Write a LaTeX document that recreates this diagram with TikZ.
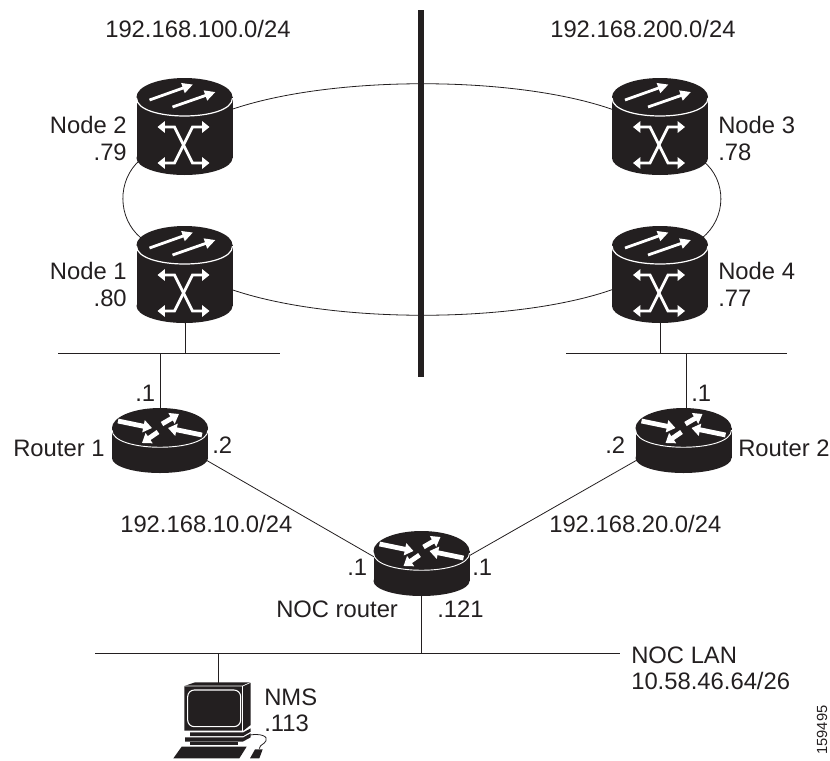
\documentclass[tikz,border=0pt]{standalone}
\usepackage{fontspec}
\setmainfont{Liberation Sans}
\usetikzlibrary{arrows.meta}
\definecolor{dk}{HTML}{231F20}
\tikzset{
  wire/.style={draw=dk,line width=0.6pt},
  lbl/.style={inner sep=0pt,text=dk,font=\fontsize{17.85}{20}\selectfont},
  devbox/.style={inner sep=0pt,minimum width=72pt,minimum height=73pt},
  rtrbox/.style={inner sep=0pt,minimum width=72pt,minimum height=49pt},
  whitearrow/.style={draw=white,line width=2.1pt,-{Triangle[length=8pt,width=7.5pt]}},
  xarrow/.style={draw=white,line width=2.1pt,{Triangle[length=5.5pt,width=8.5pt]}-{Triangle[length=5.5pt,width=8.5pt]},line join=miter},
  rarrow/.style={draw=white,line width=3.6pt,-{Triangle[length=6.5pt,width=9pt]}},
}
\newcommand\admnode[3]{%
  \begin{scope}[shift={(#2,#3)}]
    \node[devbox] (#1) at (0,39) {};
    \fill[dk] (0,0) ellipse [x radius=48,y radius=19];
    \fill[dk] (-48,0) rectangle (48,61);
    \fill[dk] (0,61) ellipse [x radius=48,y radius=17];
    \draw[white,line width=0.9pt] (-48,1) .. controls (-48,25) and (48,25) .. (48,1);
    \draw[whitearrow] (-35,3) -- (8.5,-12.5);
    \draw[whitearrow] (-12,10) -- (31,-5);
    \draw[xarrow] (-27,30) -- (-10,30) -- (8,66) -- (25,66);
    \draw[xarrow] (-27,66) -- (-10,66) -- (8,30) -- (25,30);
  \end{scope}}
\newcommand\rtrnode[3]{%
  \begin{scope}[shift={(#2,#3)}]
    \node[rtrbox] (#1) at (0,12) {};
    \fill[dk] (0,0) ellipse [x radius=48,y radius=20];
    \fill[dk] (-48,0) rectangle (48,30);
    \fill[dk] (0,30) ellipse [x radius=48,y radius=15];
    \draw[white,line width=0.7pt] (-48,2) .. controls (-48,25) and (48,25) .. (48,2);
    \draw[rarrow] (-42,-7) -- (-8,0);
    \draw[rarrow] (2,-4) -- (19,-14);
    \draw[rarrow] (42,7) -- (8,0);
    \draw[rarrow] (-2,4) -- (-18,15);
  \end{scope}}
\begin{document}
\begin{tikzpicture}[x=0.75pt,y=-0.75pt]
\useasboundingbox (0,0) rectangle (830,760);
% named positions
\coordinate (n2r) at (230,110);
\coordinate (n3l) at (614,110);
\coordinate (n1r) at (230,289);
\coordinate (n4l) at (614,289);
\coordinate (n2b) at (140,160);
\coordinate (n1t) at (141,238);
\coordinate (n3b) at (703,161);
\coordinate (n4t) at (702,238);
\coordinate (lan1a) at (58,353);
\coordinate (lan1b) at (280,353);
\coordinate (lan2a) at (566,353);
\coordinate (lan2b) at (787,353);
\coordinate (t1) at (160,353);
\coordinate (t2) at (686,353);
\coordinate (lan3a) at (95,653);
\coordinate (lan3b) at (620,653);
\coordinate (t3) at (218,653);
\coordinate (bar1) at (421,10);
\coordinate (bar2) at (421,377);
\coordinate (r1e) at (206,460);
\coordinate (r2w) at (637,460);
\coordinate (r3w) at (376,558);
\coordinate (r3e) at (467,557);
% connectors
\draw[wire] (n2r) .. controls (330,75) and (516,75) .. (n3l);
\draw[wire] (n1r) .. controls (330,324) and (516,324) .. (n4l);
\draw[wire] (n2b) .. controls (117,180) and (117,218) .. (n1t);
\draw[wire] (n3b) .. controls (727,180) and (727,218) .. (n4t);
\draw[wire] (lan1a) -- (lan1b);
\draw[wire] (lan2a) -- (lan2b);
\draw[wire] (lan3a) -- (lan3b);
\draw[dk,line width=4.2pt] (bar1) -- (bar2);
% devices
\coordinate (n1ctr) at (185,300);
\coordinate (n4ctr) at (660,300);
\draw[wire] (n1ctr) -- (n1ctr |- lan1a);
\draw[wire] (n4ctr) -- (n4ctr |- lan2a);
\admnode{n2}{184.5}{97}
\admnode{n3}{660}{97}
\admnode{n1}{184.5}{245}
\admnode{n4}{660}{245}
\coordinate (r1c) at (160,428);
\coordinate (r2c) at (683.5,428);
\coordinate (r3c) at (421.5,551);
\draw[wire] (t1) -- (t1 |- r1c);
\draw[wire] (t2) -- (t2 |- r2c);
\draw[wire] (r1e) -- (r3w);
\draw[wire] (r2w) -- (r3e);
\draw[wire] (r3c) -- (r3c |- lan3a);
\rtrnode{r1}{160}{428}
\rtrnode{r2}{683.5}{428}
\rtrnode{r3}{421.5}{551}
% computer
\coordinate (pc) at (218,690);
\draw[wire] (t3) -- (pc);
\node[inner sep=0pt,minimum width=70pt,minimum height=66pt] (nms) at (221,715) {};
\begin{scope}[shift={(140,650)},x=0.25pt,y=-0.25pt]
  \fill[dk] (133,108) -- (165,97) -- (332,97) -- (332,225) -- (310,242) -- (133,242) -- cycle;
  \draw[white,line width=0.5pt] (133,108) -- (308,108) -- (332,97);
  \draw[white,line width=0.5pt] (308,108) -- (308,242);
  \draw[white,line width=0.8pt,rounded corners=5pt] (143,120) rectangle (302,230);
  \fill[dk] (150,247) -- (310,247) -- (332,235) -- (332,245) -- (310,258) -- (150,258) -- cycle;
  \fill[dk] (135,262) -- (150,262) -- (310,262) -- (332,250) -- (332,262) -- (308,275) -- (135,275) -- cycle;
  \fill[dk] (150,275) rectangle (295,286);
  \fill[dk] (125,290) -- (320,290) -- (298,325) -- (100,325) -- cycle;
  \fill[dk] (345,298) -- (368,298) -- (358,325) -- (330,325) -- cycle;
  \draw[dk,line width=0.6pt] (330,255) .. controls (360,250) and (385,258) .. (378,272) .. controls (372,285) and (360,282) .. (358,296);
\end{scope}
% labels
\node[lbl,anchor=base west] (a1) at (105,37) {192.168.100.0/24};
\node[lbl,anchor=base west] (a2) at (550,37) {192.168.200.0/24};
\node[lbl,anchor=base east] (l2) at (127,133) {Node 2};
\node[lbl,anchor=base east] (l2a) at (127,160) {.79};
\node[lbl,anchor=base east] (l1) at (127,279) {Node 1};
\node[lbl,anchor=base east] (l1a) at (127,306) {.80};
\node[lbl,anchor=base west] (l3) at (718,133) {Node 3};
\node[lbl,anchor=base west] (l3a) at (718,160) {.78};
\node[lbl,anchor=base west] (l4) at (718,279) {Node 4};
\node[lbl,anchor=base west] (l4a) at (718,306) {.77};
\node[lbl,anchor=base west] (d1) at (135,401) {.1};
\node[lbl,anchor=base west] (d2) at (691,401) {.1};
\node[lbl,anchor=base west] (lr1) at (13,456) {Router 1};
\node[lbl,anchor=base west] (lr2) at (738,456) {Router 2};
\node[lbl,anchor=base west] (d3) at (212,453) {.2};
\node[lbl,anchor=base west] (d4) at (605,453) {.2};
\node[lbl,anchor=base west] (a3) at (120,532) {192.168.10.0/24};
\node[lbl,anchor=base west] (a4) at (549,532) {192.168.20.0/24};
\node[lbl,anchor=base west] (d5) at (347,575) {.1};
\node[lbl,anchor=base west] (d6) at (472,575) {.1};
\node[lbl,anchor=base west] (lr3) at (276,617) {NOC router};
\node[lbl,anchor=base west] (d7) at (437,617) {.121};
\node[lbl,anchor=base west] (ll1) at (631,663) {NOC LAN};
\node[lbl,anchor=base west] (ll2) at (631,689) {10.58.46.64/26};
\node[lbl,anchor=base west] (lm1) at (264,705) {NMS};
\node[lbl,anchor=base west] (lm2) at (264,731) {.113};
\node[inner sep=0pt,rotate=90,text=dk,font=\fontsize{11}{12}\selectfont] (fig) at (822,730) {159495};
\end{tikzpicture}
\end{document}
